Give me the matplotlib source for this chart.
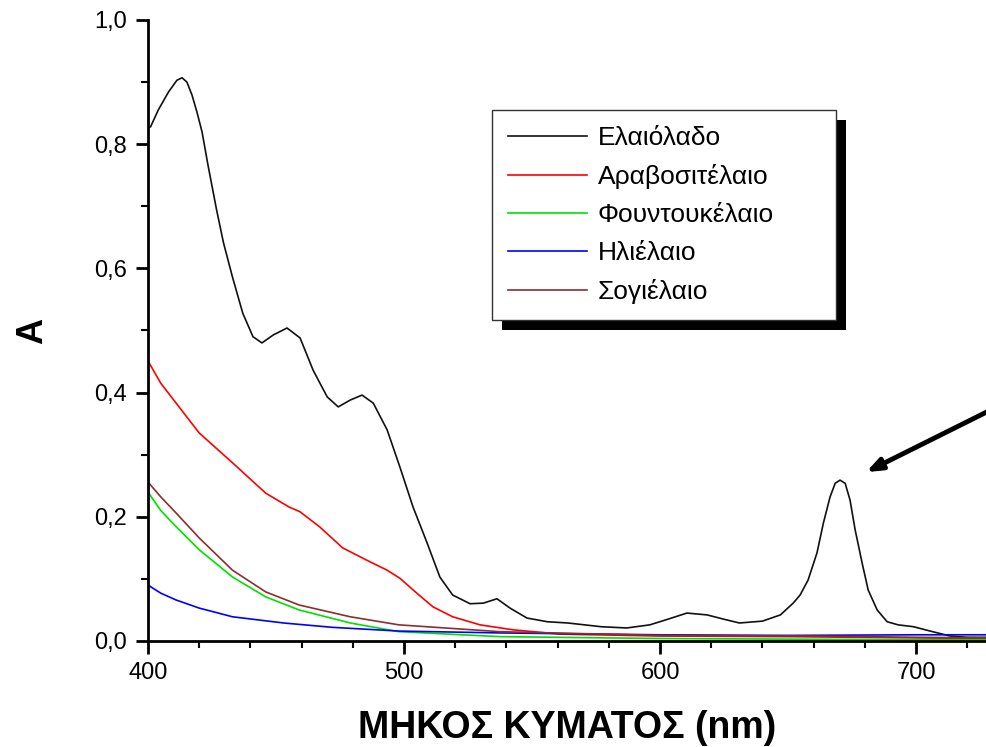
import matplotlib
matplotlib.use("Agg")
import matplotlib.pyplot as plt
from matplotlib.patches import Rectangle
from matplotlib.ticker import MultipleLocator, FuncFormatter

plt.rcParams['font.family'] = ['Liberation Sans', 'DejaVu Sans']

# values
wl_olive = [400, 401, 404, 408, 411.3, 413.3, 415.2, 417.2, 419.1, 421.1, 423.4, 426.8,
            429.5, 433, 437, 441, 444.5, 449, 454.3, 459.4, 464.5, 470, 474.3, 479,
            483.6, 488, 493.4, 498.4, 503.5, 509, 514, 519, 525.8, 531, 536.3, 541.4,
            548, 556, 564, 577, 587, 596, 603, 610.5, 618.4, 625, 631, 640, 647, 652,
            654.7, 657.8, 661.3, 663.8, 666.4, 668.4, 670.3, 672.3, 674.2, 676.2, 678.9,
            681.3, 684.8, 688.7, 693, 699, 705.5, 713.3, 720, 728]
a_olive = [0.826, 0.828, 0.855, 0.884, 0.903, 0.907, 0.900, 0.879, 0.852, 0.820, 0.767,
           0.694, 0.641, 0.586, 0.528, 0.490, 0.480, 0.493, 0.504, 0.488, 0.436, 0.393,
           0.377, 0.388, 0.396, 0.383, 0.340, 0.280, 0.216, 0.158, 0.103, 0.074, 0.060,
           0.061, 0.068, 0.053, 0.037, 0.031, 0.029, 0.023, 0.021, 0.026, 0.035, 0.045,
           0.042, 0.035, 0.029, 0.032, 0.042, 0.061, 0.074, 0.098, 0.142, 0.190, 0.232,
           0.254, 0.259, 0.254, 0.227, 0.179, 0.126, 0.082, 0.050, 0.031, 0.026, 0.023,
           0.016, 0.008, 0.006, 0.006]

wl_corn = [400, 405, 411, 420, 433, 446, 455, 459.4, 467, 476, 485.5, 493.4, 498.4, 505,
           511.3, 519, 529.7, 542.6, 561, 600, 650, 700, 728]
a_corn = [0.451, 0.415, 0.383, 0.335, 0.287, 0.238, 0.216, 0.208, 0.184, 0.150, 0.130,
          0.114, 0.101, 0.077, 0.055, 0.039, 0.026, 0.018, 0.011, 0.008, 0.007, 0.005, 0.004]

wl_hazel = [400, 405, 411, 420, 433, 446, 459, 479, 498, 537.5, 600, 650, 700, 728]
a_hazel = [0.240, 0.210, 0.184, 0.147, 0.103, 0.071, 0.050, 0.029, 0.015, 0.007, 0.004,
           0.003, 0.002, 0.002]

wl_sun = [400, 405, 411, 420, 433, 453, 472, 498, 537.5, 600, 650, 700, 728]
a_sun = [0.090, 0.077, 0.066, 0.053, 0.039, 0.029, 0.022, 0.016, 0.013, 0.010, 0.009,
         0.010, 0.010]

wl_soy = [400, 405, 411, 420, 433, 446, 459, 479, 498, 537.5, 600, 660, 700, 728]
a_soy = [0.256, 0.232, 0.206, 0.166, 0.114, 0.079, 0.058, 0.039, 0.026, 0.015, 0.009,
         0.008, 0.006, 0.005]

labels = ['Ελαιόλαδο', 'Αραβοσιτέλαιο', 'Φουντουκέλαιο', 'Ηλιέλαιο', 'Σογιέλαιο']

fig = plt.figure(figsize=(9.87, 7.47), dpi=100)
ax = fig.add_axes([148 / 987, 106 / 747, 1 - 148 / 987, 621 / 747])

ax.plot(wl_olive, a_olive, color='#111111', lw=1.2, label=labels[0])
ax.plot(wl_corn, a_corn, color='#ff0000', lw=1.2, label=labels[1])
ax.plot(wl_hazel, a_hazel, color='#00e000', lw=1.2, label=labels[2])
ax.plot(wl_sun, a_sun, color='#0000ff', lw=1.2, label=labels[3])
ax.plot(wl_soy, a_soy, color='#8b2e2e', lw=1.2, label=labels[4])

ax.set_xlim(400, 727.7)
ax.set_ylim(0, 1.0)
ax.spines['top'].set_visible(False)
ax.spines['right'].set_visible(False)
ax.spines['left'].set_linewidth(2)
ax.spines['bottom'].set_linewidth(2)

ax.xaxis.set_major_locator(MultipleLocator(100))
ax.xaxis.set_minor_locator(MultipleLocator(20))
ax.yaxis.set_major_locator(MultipleLocator(0.2))
ax.yaxis.set_minor_locator(MultipleLocator(0.1))
ax.yaxis.set_major_formatter(FuncFormatter(lambda v, p: f'{v:.1f}'.replace('.', ',')))
ax.tick_params(which='major', length=9, width=2, labelsize=17, pad=6)
ax.tick_params(which='minor', length=5, width=1.5)

ax.set_xlabel('ΜΗΚΟΣ ΚΥΜΑΤΟΣ (nm)', fontsize=27, fontweight='bold', labelpad=19)
ax.set_ylabel('A', fontsize=26, fontweight='bold', labelpad=32)

ax.annotate('', xy=(680.5, 0.272), xytext=(735, 0.384), annotation_clip=False,
            arrowprops=dict(arrowstyle='-|>,head_length=0.9,head_width=0.35',
                            color='black', lw=3.5, shrinkA=0, shrinkB=0))

leg = ax.legend(loc='upper left', mode='expand',
                bbox_to_anchor=(492 / 987, 0, 344 / 987, 1 - 110 / 747),
                bbox_transform=fig.transFigure, borderaxespad=0, fontsize=19,
                fancybox=False, edgecolor='#333333', framealpha=1,
                handlelength=3.0, handletextpad=0.4, labelspacing=0.535, borderpad=0.6)
leg.get_frame().set_linewidth(1.0)

# drop shadow behind the legend box
fig.canvas.draw()
bb = leg.get_window_extent()
shadow = Rectangle((bb.x0 + 10, bb.y0 - 10), bb.width, bb.height, transform=None,
                   facecolor='black', edgecolor='none', zorder=4.5)
ax.add_artist(shadow)
shadow.set_clip_on(False)

fig.savefig('out.png', dpi=100)
